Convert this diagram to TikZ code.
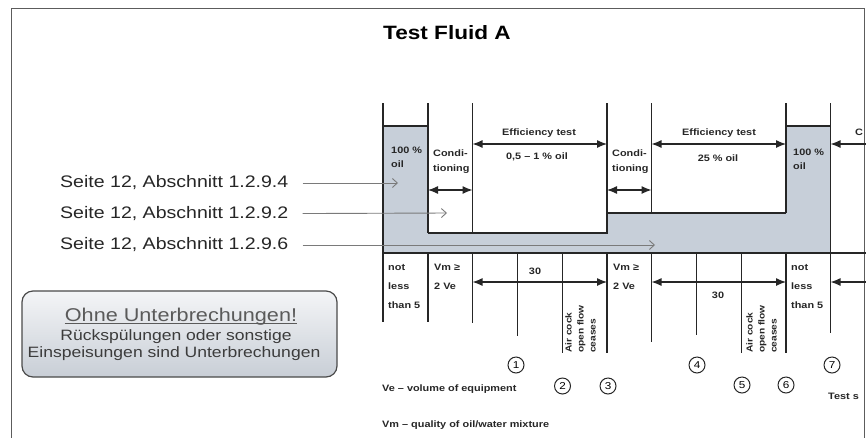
\documentclass[tikz,border=0pt]{standalone}
\usepackage{fontspec}
\setmainfont{Liberation Sans}[FakeStretch=1.17]
\definecolor{fluidfill}{HTML}{C7CFD9}
\definecolor{inkline}{HTML}{262626}
\definecolor{pointergray}{HTML}{7A7A7A}
\definecolor{notetext}{HTML}{3C3C3C}
\definecolor{notehead}{HTML}{5A5A5A}
\definecolor{noteborder}{HTML}{4A4A4A}
\definecolor{notetop}{HTML}{F4F5F7}
\definecolor{notebottom}{HTML}{C8CED6}
\definecolor{framegray}{HTML}{5C5C5C}
\usetikzlibrary{arrows.meta,positioning,calc}

\begin{document}
\begin{tikzpicture}[
  x=1pt, y=-1pt,
  rule/.style={draw=inkline, line width=1.1pt},
  span/.style={inkline, line width=1.2pt, {Latex[length=10pt,width=8pt]}-{Latex[length=10pt,width=8pt]}},
  halfspan/.style={inkline, line width=1.2pt, -{Latex[length=10pt,width=8pt]}},
  pointer/.style={pointergray, line width=0.9pt, -{Straight Barb[length=5pt,width=9pt]}, shorten <=14pt},
  seitelabel/.style={font=\fontsize{16.7}{19}\selectfont, text=black!85, anchor=west, inner sep=0pt},
  tag/.style={font=\fontsize{9.3}{14}\selectfont\bfseries, text=inkline, inner sep=0pt, align=left},
  stepnum/.style={circle, draw=inkline, line width=1pt, minimum size=16pt, inner sep=0pt, font=\fontsize{10}{10}\selectfont},
  notebox/.style={rectangle, rounded corners=11pt, draw=noteborder, line width=1.2pt, top color=notetop, bottom color=notebottom, minimum width=315pt, minimum height=86pt},
]
\useasboundingbox (0,0) rectangle (866,437);
\draw[framegray, line width=1pt] (11,8) rectangle (864,445);

\node[font=\fontsize{19.3}{22}\selectfont\bfseries, inner sep=0pt, anchor=base] (title) at (447,39) {Test Fluid A};

% fluid level
\fill[fluidfill] (383,126) -- (428,126) -- (428,233) -- (607,233) -- (607,213) -- (786,213)
  -- (786,126) -- (830.5,126) -- (830.5,252) -- (383,252) -- cycle;
\draw[rule] (383,126) -- (428,126);
\draw[rule] (786,126) -- (830.5,126);
\draw[rule] (428,233) -- (607,233) -- (607,213) -- (786,213);
\draw[rule] (383,253) -- (866,253);
\foreach \x/\ya/\yb in {383/103/322, 428/103/233, 472.5/103/233, 607/103/233, 651.5/103/213, 786/103/213, 830.5/103/333}
  \draw[rule] (\x,\ya) -- (\x,\yb);
\foreach \x/\yb in {428/322, 472.5/323, 517.5/336, 562.5/353, 607/353, 651.5/342, 696.5/335, 741.5/353, 786/353}
  \draw[rule] (\x,253) -- (\x,\yb);

% upper labels
\node[tag, anchor=north west, font=\fontsize{9.3}{14}\selectfont\bfseries] (oilA) at (391,147) {100 \%\\oil};
\node[tag, anchor=north west, font=\fontsize{9.3}{14}\selectfont\bfseries] (oilB) at (793,149) {100 \%\\oil};
\node[tag, anchor=north west, font=\fontsize{9.3}{15}\selectfont\bfseries] (condA) at (433,150) {Condi-\\tioning};
\node[tag, anchor=north west, font=\fontsize{9.3}{15}\selectfont\bfseries] (condB) at (612,150) {Condi-\\tioning};
\node[tag, anchor=base] (effA) at (539,135) {Efficiency test};
\node[tag, anchor=base] (mixA) at (537,159) {0,5 -- 1 \% oil};
\node[tag, anchor=base] (effB) at (719,135) {Efficiency test};
\node[tag, anchor=base] (mixB) at (718,161) {25 \% oil};
\node[tag, anchor=base west] (cutC) at (855,135) {C};

\coordinate (condAl) at (428,190);   \coordinate (condAr) at (472.5,190);
\coordinate (condBl) at (607,190);   \coordinate (condBr) at (651.5,190);
\coordinate (effAl) at (472.5,144);  \coordinate (effAr) at (607,144);
\coordinate (effBl) at (651.5,144);  \coordinate (effBr) at (786,144);
\coordinate (edgeU) at (866,144);    \coordinate (endU) at (830.5,144);
\draw[span] (condAl) -- (condAr);
\draw[span] (condBl) -- (condBr);
\draw[span] (effAl) -- (effAr);
\draw[span] (effBl) -- (effBr);
\draw[halfspan] (edgeU) -- (endU);

% lower labels
\node[tag, anchor=north west, font=\fontsize{9.3}{19}\selectfont\bfseries] (minA) at (388,264) {not\\less\\than 5};
\node[tag, anchor=north west, font=\fontsize{9.3}{19}\selectfont\bfseries] (vmA) at (434,264) {Vm ≥\\2 Ve};
\node[tag, anchor=north west, font=\fontsize{9.3}{19}\selectfont\bfseries] (vmB) at (613,264) {Vm ≥\\2 Ve};
\node[tag, anchor=north west, font=\fontsize{9.3}{19}\selectfont\bfseries] (minB) at (791,264) {not\\less\\than 5};
\node[tag, anchor=base] (thirtyA) at (535,274) {30};
\node[tag, anchor=base] (thirtyB) at (718,298) {30};
\node[tag, rotate=90, anchor=north west, font=\fontsize{8.7}{12}\selectfont\bfseries] (cockA) at (565,353) {Air cock\\open flow\\ceases};
\node[tag, rotate=90, anchor=north west, font=\fontsize{8.7}{12}\selectfont\bfseries] (cockB) at (746,353) {Air cock\\open flow\\ceases};

\coordinate (runAl) at (472.5,282);  \coordinate (runAr) at (607,282);
\coordinate (runBl) at (651.5,282);  \coordinate (runBr) at (786,282);
\coordinate (edgeL) at (866,282);    \coordinate (endL) at (830.5,282);
\draw[span] (runAl) -- (runAr);
\draw[span] (runBl) -- (runBr);
\draw[halfspan] (edgeL) -- (endL);

% steps
\node[stepnum] (n1) at (516,365) {1};
\node[stepnum] (n2) at (562.5,386) {2};
\node[stepnum] (n3) at (608,386) {3};
\node[stepnum] (n4) at (697,365) {4};
\node[stepnum] (n5) at (742,385) {5};
\node[stepnum] (n6) at (786,385) {6};
\node[stepnum] (n7) at (832,365) {7};

\node[tag, anchor=base west] (legVe) at (382,391) {Ve -- volume of equipment};
\node[tag, anchor=base west] (legVm) at (382,427) {Vm -- quality of oil/water mixture};
\node[tag, anchor=base west] (tests) at (828,399) {Test s};

% references
\node[seitelabel] (s4) at (60,183) {Seite 12, Abschnitt 1.2.9.4};
\node[seitelabel] (s2) at (60,214) {Seite 12, Abschnitt 1.2.9.2};
\node[seitelabel] (s6) at (60,245) {Seite 12, Abschnitt 1.2.9.6};
\coordinate (t4) at (398,183);
\coordinate (t2) at (447,213);
\coordinate (t6) at (655,245);
\draw[pointer] (s4) -- (t4);
\draw[pointer] (s2) -- (t2);
\draw[pointer] (s6) -- (t6);

% note
\node[notebox] (note) at (179.5,334) {};
\node[font=\fontsize{18.5}{20}\selectfont, text=notehead, inner sep=0pt, anchor=base] (notehd) at (181,321) {Ohne Unterbrechungen!};
\draw[notehead, line width=0.8pt] ($(notehd.base west)+(0,2.5)$) -- ($(notehd.base east)+(0,2.5)$);
\node[font=\fontsize{15}{17}\selectfont, text=notetext, inner sep=0pt, anchor=base] (noteA) at (176,340) {Rückspülungen oder sonstige};
\node[font=\fontsize{15}{17}\selectfont, text=notetext, inner sep=0pt, anchor=base] (noteB) at (174,357) {Einspeisungen sind Unterbrechungen};
\end{tikzpicture}
\end{document}
